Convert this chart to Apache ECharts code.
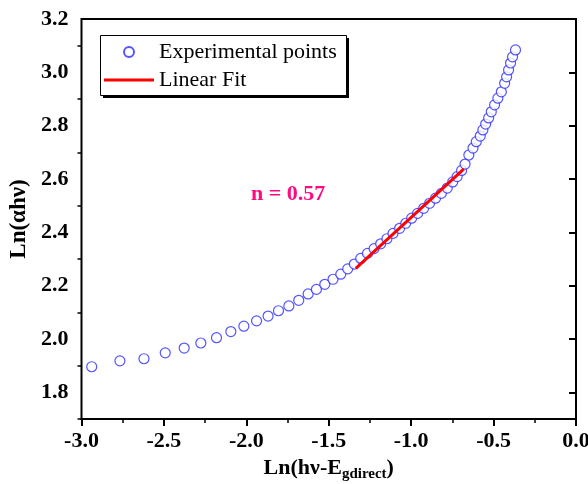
<!DOCTYPE html>
<html>
<head>
<meta charset="utf-8">
<script src="https://cdn.jsdelivr.net/npm/echarts@6/dist/echarts.min.js"></script>
<style>
  html, body { margin: 0; padding: 0; background: #fff; }
  #chart { width: 588px; height: 484px; }
</style>
</head>
<body>
<div id="chart"></div>
<script>
var expX = [-2.938, -2.767, -2.621, -2.492, -2.377, -2.276, -2.181, -2.094, -2.015, -1.938,
	-1.868, -1.805, -1.742, -1.682, -1.625, -1.575, -1.524, -1.474, -1.427, -1.385,
	-1.345, -1.306, -1.265, -1.225, -1.185, -1.147, -1.110, -1.070, -1.033, -0.997,
	-0.961, -0.924, -0.888, -0.852, -0.817, -0.781, -0.748, -0.721, -0.694, -0.673,
	-0.650, -0.625, -0.605, -0.581, -0.565, -0.548, -0.530, -0.514, -0.494, -0.474,
	-0.453, -0.433, -0.421, -0.409, -0.397, -0.385, -0.367];
var expY = [1.896, 1.918, 1.926, 1.948, 1.966, 1.985, 2.005, 2.028, 2.048, 2.068,
	2.086, 2.106, 2.124, 2.145, 2.169, 2.186, 2.205, 2.224, 2.243, 2.263,
	2.281, 2.302, 2.321, 2.339, 2.357, 2.376, 2.396, 2.415, 2.434, 2.453,
	2.471, 2.490, 2.509, 2.528, 2.546, 2.566, 2.589, 2.609, 2.632, 2.656,
	2.690, 2.716, 2.740, 2.761, 2.784, 2.806, 2.829, 2.852, 2.878, 2.903,
	2.927, 2.959, 2.983, 3.009, 3.035, 3.058, 3.084];

// linear fit end points
var fitX = [-1.336, -0.680];
var fitY = [2.265, 2.638];

// y tick labels and minor ticks
var yTicks = [1.8, 2.0, 2.2, 2.4, 2.6, 2.8, 3.0, 3.2];
var yMinorTicks = [1.7, 1.9, 2.1, 2.3, 2.5, 2.7, 2.9, 3.1];

var serif = 'Liberation Serif';
var fs = 22;

function zip(a, b) {
	var out = [];
	for (var i = 0; i < a.length; i++) out.push([a[i], b[i]]);
	return out;
}

var myChart = echarts.init(document.getElementById('chart'));

var option = {
	animation: false,
	backgroundColor: '#fff',
	grid: {
		left: 81.5,
		right: 12,
		top: 19,
		bottom: 65,
		containLabel: false,
		outerBoundsMode: 'none',
		show: true,
		borderColor: '#000',
		borderWidth: 2
	},
	legend: {
		orient: 'vertical',
		left: 100,
		top: 35,
		padding: [5, 5, 5, 4],
		itemWidth: 50,
		itemHeight: 10,
		itemGap: 4,
		z: 10,
		textStyle: {
			fontFamily: serif,
			fontSize: fs,
			color: '#000',
			lineHeight: 24
		},
		data: [
			{ name: 'Experimental points' },
			{ name: 'Linear Fit', icon: 'path://M0 0H50V3H0Z' }
		]
	},
	xAxis: {
		type: 'value',
		min: -3,
		max: 0,
		interval: 0.5,
		name: '{b|Ln(hν-E}{s|gdirect}{b|)}',
		nameLocation: 'middle',
		nameGap: 36,
		nameTextStyle: {
			rich: {
				b: { fontFamily: serif, fontWeight: 'bold', fontSize: fs, color: '#000' },
				s: { fontFamily: serif, fontWeight: 'bold', fontSize: 15, color: '#000', padding: [12, 0, 0, 0] }
			}
		},
		axisLine: { lineStyle: { color: '#000', width: 2 } },
		axisTick: { inside: false, length: 7, lineStyle: { color: '#000', width: 2 } },
		minorTick: { show: true, splitNumber: 2, length: 4, lineStyle: { color: '#000', width: 1.5 } },
		axisLabel: {
			fontFamily: serif,
			fontWeight: 'bold',
			fontSize: fs,
			color: '#000',
			margin: 11,
			formatter: function(v) { return v.toFixed(1); }
		},
		splitLine: { show: false }
	},
	yAxis: [{
		type: 'value',
		min: 1.7,
		max: 3.2,
		name: 'Ln(αhν)',
		nameLocation: 'middle',
		nameRotate: 90,
		nameGap: 47,
		nameTextStyle: { fontFamily: serif, fontWeight: 'bold', fontSize: 23, color: '#000' },
		axisLine: { lineStyle: { color: '#000', width: 2 } },
		axisTick: { inside: false, length: 7, customValues: yTicks, lineStyle: { color: '#000', width: 2 } },
		axisLabel: {
			fontFamily: serif,
			fontWeight: 'bold',
			fontSize: fs,
			color: '#000',
			margin: 13,
			customValues: yTicks,
			formatter: function(v) { return v.toFixed(1); }
		},
		splitLine: { show: false }
	}, {
		type: 'value',
		min: 1.7,
		max: 3.2,
		position: 'left',
		axisLine: { show: false },
		axisTick: { show: true, inside: false, length: 4, customValues: yMinorTicks, lineStyle: { color: '#000', width: 1.5 } },
		axisLabel: { show: false },
		splitLine: { show: false }
	}],
	graphic: [{
		// legend frame with solid drop shadow
		type: 'rect',
		z: 1,
		shape: { x: 103, y: 38, width: 246, height: 60 },
		style: { fill: '#000' }
	}, {
		type: 'rect',
		z: 1,
		shape: { x: 100.5, y: 35.5, width: 246, height: 60 },
		style: { fill: '#fff', stroke: '#000', lineWidth: 1 }
	}, {
		type: 'text',
		left: 251,
		top: 183,
		style: {
			text: 'n = 0.57',
			font: 'bold 22px "Liberation Serif"',
			fill: '#ff0a80'
		}
	}],
	series: [{
		name: 'Experimental points',
		type: 'scatter',
		symbol: 'circle',
		symbolSize: 10,
		itemStyle: { color: '#fff', borderColor: '#2b2bff', borderWidth: 1.2 },
		data: zip(expX, expY),
		z: 2
	}, {
		name: 'Linear Fit',
		type: 'line',
		showSymbol: false,
		symbol: 'none',
		lineStyle: { color: '#ff0000', width: 3 },
		itemStyle: { color: '#ff0000' },
		data: zip(fitX, fitY),
		z: 3
	}]
};

myChart.setOption(option);
</script>
</body>
</html>
